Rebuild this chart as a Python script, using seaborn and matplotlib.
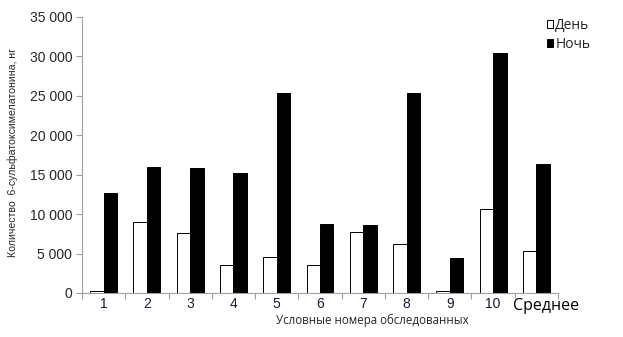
import matplotlib
matplotlib.use("Agg")
import matplotlib.pyplot as plt
import matplotlib.transforms as mtransforms
import seaborn as sns
import pandas as pd
import numpy as np
from matplotlib.patches import Patch
from matplotlib.ticker import FuncFormatter, FixedLocator

categories = ["1", "2", "3", "4", "5", "6", "7", "8", "9", "10", "Среднее"]
day = [220, 9000, 7600, 3600, 4550, 3600, 7700, 6200, 220, 10700, 5300]
night = [12700, 16000, 15900, 15200, 25300, 8800, 8600, 25400, 4450, 30400, 16300]
series = ["День", "Ночь"]

df = pd.DataFrame({
    "cat": categories * 2,
    "val": day + night,
    "series": [series[0]] * len(categories) + [series[1]] * len(categories),
})

sns.set_theme(style="white")
plt.rcParams["font.family"] = ["Liberation Sans", "DejaVu Sans"]

fig = plt.figure(figsize=(6.23, 3.37), dpi=100)
ax = fig.add_axes([82 / 623, (337 - 293) / 337, (558 - 82) / 623, (293 - 17) / 337])

sns.barplot(data=df, x="cat", y="val", hue="series", order=categories,
            hue_order=series, palette={"День": "white", "Ночь": "black"},
            edgecolor="black", linewidth=0.7, width=0.62, ax=ax, legend=False)

ax.set_xlim(-0.5, len(categories) - 0.5)
ax.set_ylim(0, 35000)
ax.set_yticks(np.arange(0, 35001, 5000))
ax.yaxis.set_major_formatter(FuncFormatter(lambda v, p: f"{int(v):,}".replace(",", " ")))
ax.tick_params(axis="y", which="major", length=4, width=0.8, color="#a0a0a0",
               direction="out", labelsize=10, pad=3, left=True)

ax.xaxis.set_minor_locator(FixedLocator(np.arange(-0.5, len(categories), 1.0)))
ax.tick_params(axis="x", which="major", length=0, pad=3, labelsize=10,
               labelcolor="#1a1a3a")
ax.tick_params(axis="x", which="minor", length=4, width=0.8, color="#a0a0a0",
               direction="out", bottom=True)
shift = mtransforms.ScaledTranslation(10 / 100, -1 / 100, fig.dpi_scale_trans)
for lbl in ax.get_xticklabels():
    if lbl.get_text() == "Среднее":
        lbl.set_fontfamily(["Open Sans", "DejaVu Sans"])
        lbl.set_fontsize(11.5)
        lbl.set_color("black")
        lbl.set_transform(lbl.get_transform() + shift)

for s in ["top", "right"]:
    ax.spines[s].set_visible(False)
for s in ["left", "bottom"]:
    ax.spines[s].set_color("#a0a0a0")
    ax.spines[s].set_linewidth(0.8)

ax.set_xlabel("Условные номера обследованных", fontfamily=["Open Sans", "DejaVu Sans"],
              fontsize=8.3)
ax.xaxis.set_label_coords((372 - 82) / (558 - 82), -0.075)
ax.set_ylabel("Количество  6-сульфатоксимелатонина, нг", fontsize=7.6)
ax.yaxis.set_label_coords(-0.135, 0.51)

handles = [Patch(facecolor="white", edgecolor="black", linewidth=0.7, label="День"),
           Patch(facecolor="black", edgecolor="black", linewidth=0.7, label="Ночь")]
fig.legend(handles=handles, loc="upper left", bbox_to_anchor=(547 / 623, 1 - 18 / 337),
           frameon=False, handlelength=0.45, handleheight=0.45, handletextpad=0.15,
           labelspacing=0.3, borderaxespad=0, borderpad=0,
           prop={"family": ["Open Sans", "DejaVu Sans"], "size": 10})

fig.savefig("out.png", dpi=100)
